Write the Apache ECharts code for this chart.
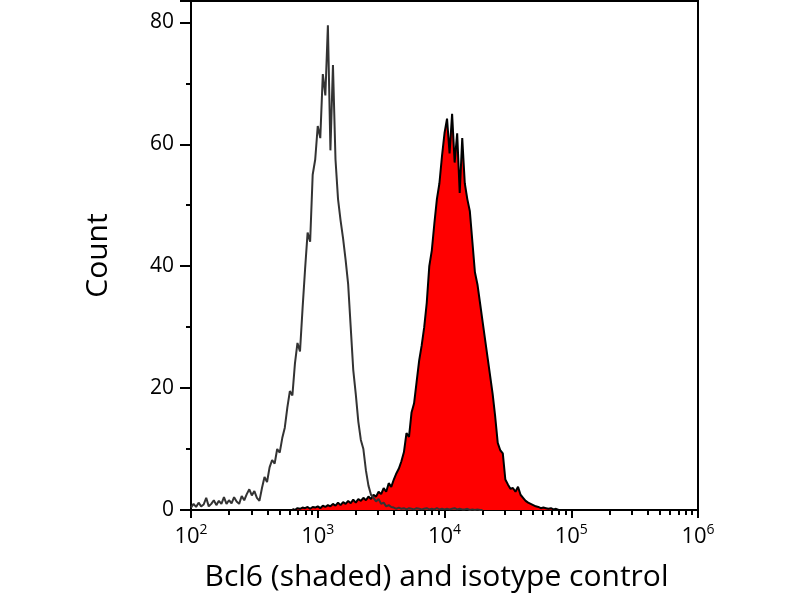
<!DOCTYPE html>
<html>
<head>
<meta charset="utf-8">
<script src="https://cdn.jsdelivr.net/npm/echarts@6/dist/echarts.min.js"></script>
<style>
  html, body { margin: 0; padding: 0; background: #fff; }
  #chart { width: 800px; height: 600px; }
</style>
</head>
<body>
<div id="chart"></div>
<script>
// bin width in decades (log10 units)
var STEP = 0.02;

// isotype control, bins from 10^2.00
var isoStart = 2.00;
var isoCounts = [
  0.4, 1.0, 0.5, 1.2, 0.6, 0.9, 2.0, 0.6, 1.0, 1.6,
  0.8, 1.5, 1.0, 2.1, 1.0, 1.6, 1.1, 2.1, 1.4, 1.0,
  2.3, 1.6, 2.6, 3.4, 2.4, 3.1, 2.0, 1.5, 3.6, 5.4,
  4.6, 7.0, 8.2, 7.6, 10.0, 9.4, 11.8, 13.5, 16.8, 19.5,
  18.8, 24.0, 27.4, 26.0, 33.0, 39.5, 45.5, 44.0, 55.0, 57.5,
  63.0, 61.0, 71.5, 68.0, 79.5, 59.0, 73.0, 57.5, 51.0, 47.5,
  44.5, 41.0, 37.0, 30.0, 23.0, 19.0, 14.5, 11.5, 10.0, 6.5,
  4.0, 2.5, 2.0, 1.4, 1.8, 1.0, 1.2, 0.6, 0.8, 0.5,
  0.4, 0.2, 0.4, 0.2, 0.3, 0.1, 0.3, 0.2, 0.1, 0.3,
  0.2, 0.1, 0.2, 0.3, 0.1, 0.2, 0.1, 0.3, 0.1, 0.2,
  0.1, 0.2, 0.1, 0.2, 0.3, 0.1, 0.2, 0.1, 0.1, 0.2,
  0, 0.1, 0, 0.1, 0, 0
];

// Bcl6 stained (shaded), bins from 10^2.80
var bclStart = 2.80;
var bclCounts = [
  0.2, 0, 0.3, 0.2, 0.4, 0.3, 0.5, 0.2, 0.5, 0.4,
  0.6, 0.3, 0.7, 0.5, 0.8, 0.6, 1.0, 0.7, 1.2, 0.8,
  1.3, 1.0, 1.5, 1.1, 1.7, 1.2, 1.8, 1.5, 2.0, 1.6,
  2.2, 1.8, 2.5, 2.2, 3.0, 2.6, 3.6, 3.0, 4.4, 3.8,
  5.0, 6.0, 6.8, 8.0, 9.5, 12.6, 12.0, 16.0, 17.5, 21.0,
  24.5, 27.0, 30.0, 34.0, 40.0, 42.6, 47.0, 51.0, 53.6, 58.0,
  61.8, 64.2, 58.5, 65.0, 57.0, 61.8, 52.0, 61.0, 53.6, 51.0,
  49.0, 44.0, 39.0, 37.0, 34.0, 31.0, 28.0, 25.0, 22.0, 19.0,
  15.3, 11.0, 9.8, 9.3, 5.0, 4.2, 3.5, 3.6, 3.0, 3.8,
  2.5, 2.0, 1.5, 1.2, 1.0, 0.8, 0.6, 0.5, 0.3, 0.4,
  0.3, 0.2, 0.3, 0.1, 0.2, 0
];

var decadeTicks = [2, 3, 4, 5, 6];
var minorMultipliers = [2, 3, 4, 5, 6, 7, 8, 9];

function toPoints(start, counts) {
  return counts.map(function (c, i) {
    return [+(start + i * STEP).toFixed(2), c];
  });
}

var minorTickValues = [];
decadeTicks.slice(0, -1).forEach(function (d) {
  minorMultipliers.forEach(function (m) {
    minorTickValues.push(d + Math.log10(m));
  });
});

var myChart = echarts.init(document.getElementById('chart'));
var font = 'Open Sans';

var option = {
  animation: false,
  backgroundColor: '#fff',
  grid: {
    left: 191, right: 102, top: 1, bottom: 90,
    show: true, borderColor: '#000', borderWidth: 2, backgroundColor: 'transparent'
  },
  xAxis: [{
    type: 'value',
    min: 2, max: 6, interval: 1,
    name: 'Bcl6 (shaded) and isotype control',
    nameLocation: 'middle',
    nameGap: 52,
    nameTextStyle: { fontFamily: font, fontSize: 30, color: '#000', padding: [0, 16, 0, 0] },
    axisLine: { lineStyle: { color: '#000', width: 2 } },
    axisTick: { length: 8, lineStyle: { color: '#000', width: 2 } },
    splitLine: { show: false },
    axisLabel: {
      margin: 13,
      fontFamily: font, fontSize: 22, color: '#000',
      formatter: function (v) { return '10{sup|' + v + '}'; },
      rich: {
        sup: { fontFamily: font, fontSize: 14, color: '#000', verticalAlign: 'top', padding: [0, 0, 13, 0] }
      }
    }
  }, {
    type: 'value',
    min: 2, max: 6,
    position: 'bottom',
    axisLine: { show: false },
    axisLabel: { show: false },
    splitLine: { show: false },
    axisTick: { length: 5, customValues: minorTickValues, lineStyle: { color: '#000', width: 2 } }
  }],
  yAxis: {
    type: 'value',
    min: 0, max: 83.5, interval: 20,
    name: 'Count',
    nameLocation: 'middle',
    nameGap: 78,
    nameTextStyle: { fontFamily: font, fontSize: 30, color: '#000' },
    axisLine: { show: true, lineStyle: { color: '#000', width: 2 } },
    axisTick: { show: true, length: 11, lineStyle: { color: '#000', width: 2 } },
    minorTick: { show: true, splitNumber: 2, length: 5, lineStyle: { color: '#000', width: 2 } },
    splitLine: { show: false },
    axisLabel: {
      margin: 17,
      fontFamily: font, fontSize: 21, color: '#000',
      showMaxLabel: false,
      formatter: function (v) { return v % 20 === 0 ? String(v) : ''; }
    }
  },
  series: [{
    name: 'Bcl6',
    type: 'line',
    data: toPoints(bclStart, bclCounts),
    showSymbol: false,
    lineStyle: { color: '#000', width: 2 },
    areaStyle: { color: '#ff0000', opacity: 1 },
    z: 2
  }, {
    name: 'Isotype control',
    type: 'line',
    data: toPoints(isoStart, isoCounts),
    showSymbol: false,
    lineStyle: { color: '#333', width: 2 },
    z: 3
  }]
};

myChart.setOption(option);
</script>
</body>
</html>
